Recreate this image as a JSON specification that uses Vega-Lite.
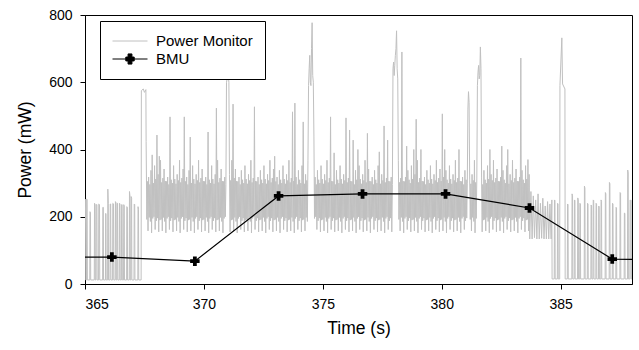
{
"$schema":"https://vega.github.io/schema/vega-lite/v6.json",
"width":547,"height":269,"autosize":"none",
"padding":{"left":85,"top":15,"right":7,"bottom":66},
"config":{"font":"Liberation Sans","view":{"stroke":"black","strokeWidth":1},
"axis":{"grid":false,"domainColor":"black","tickColor":"black","labelColor":"black","titleColor":"black","labelFontSize":14,"titleFontSize":17.5,"titleFontWeight":"normal","tickSize":5,"domainWidth":1,"tickWidth":1,"labelFont":"Liberation Sans","titleFont":"Liberation Sans"}},
"datasets":{
"pm":[
{"t":365,"p":250},{"t":365.02,"p":252},{"t":365.03,"p":12},
{"t":365.06,"p":12},{"t":365.07,"p":253},{"t":365.09,"p":250},{"t":365.1,"p":12},
{"t":365.2,"p":12},{"t":365.21,"p":215},{"t":365.23,"p":212},{"t":365.24,"p":12},
{"t":365.39,"p":12},{"t":365.4,"p":240},{"t":365.42,"p":238},{"t":365.43,"p":12},
{"t":365.46,"p":12},{"t":365.47,"p":236},{"t":365.5,"p":236},{"t":365.51,"p":12},
{"t":365.57,"p":12},{"t":365.58,"p":238},{"t":365.61,"p":236},{"t":365.62,"p":12},
{"t":365.74,"p":12},{"t":365.75,"p":228},{"t":365.77,"p":228},{"t":365.78,"p":12},
{"t":365.86,"p":12},{"t":365.87,"p":210},{"t":365.88,"p":208},{"t":365.89,"p":12},
{"t":365.95,"p":12},{"t":365.96,"p":282},{"t":365.98,"p":240},{"t":365.99,"p":12},
{"t":366.05,"p":12},{"t":366.06,"p":238},{"t":366.08,"p":238},{"t":366.09,"p":12},
{"t":366.16,"p":12},{"t":366.17,"p":240},{"t":366.2,"p":238},{"t":366.21,"p":12},
{"t":366.27,"p":12},{"t":366.28,"p":245},{"t":366.3,"p":242},{"t":366.31,"p":12},
{"t":366.34,"p":12},{"t":366.35,"p":240},{"t":366.37,"p":240},{"t":366.38,"p":12},
{"t":366.44,"p":12},{"t":366.45,"p":240},{"t":366.47,"p":238},{"t":366.48,"p":12},
{"t":366.53,"p":12},{"t":366.54,"p":236},{"t":366.56,"p":236},{"t":366.57,"p":12},
{"t":366.62,"p":12},{"t":366.63,"p":236},{"t":366.65,"p":232},{"t":366.66,"p":12},
{"t":366.75,"p":12},{"t":366.76,"p":230},{"t":366.78,"p":228},{"t":366.79,"p":12},
{"t":366.86,"p":12},{"t":366.87,"p":275},{"t":366.89,"p":262},{"t":366.9,"p":12},
{"t":366.93,"p":12},{"t":366.94,"p":260},{"t":366.96,"p":255},{"t":366.97,"p":12},
{"t":367.06,"p":12},{"t":367.07,"p":238},{"t":367.09,"p":236},{"t":367.1,"p":12},
{"t":367.22,"p":12},{"t":367.23,"p":230},{"t":367.25,"p":222},{"t":367.26,"p":12},
{"t":367.36,"p":12},{"t":367.37,"p":575},{"t":367.45,"p":580},{"t":367.5,"p":570},{"t":367.56,"p":578},{"t":367.57,"p":424},
{"t":367.6,"p":192},{"t":367.625,"p":305},{"t":367.65,"p":158},{"t":367.675,"p":318},{"t":367.7,"p":198},{"t":367.725,"p":296},{"t":367.75,"p":186},{"t":367.775,"p":338},
{"t":367.8,"p":152},{"t":367.825,"p":384},{"t":367.85,"p":195},{"t":367.875,"p":300},{"t":367.9,"p":200},{"t":367.925,"p":352},{"t":367.95,"p":162},{"t":367.975,"p":312},
{"t":368,"p":188},{"t":368.025,"p":443},{"t":368.05,"p":196},{"t":368.075,"p":326},{"t":368.1,"p":155},{"t":368.125,"p":380},{"t":368.15,"p":190},{"t":368.175,"p":368},
{"t":368.2,"p":192},{"t":368.225,"p":302},{"t":368.25,"p":158},{"t":368.275,"p":315},{"t":368.3,"p":198},{"t":368.325,"p":342},{"t":368.35,"p":186},{"t":368.375,"p":306},
{"t":368.4,"p":152},{"t":368.425,"p":305},{"t":368.45,"p":195},{"t":368.475,"p":318},{"t":368.5,"p":200},{"t":368.525,"p":296},{"t":368.55,"p":162},{"t":368.575,"p":497},
{"t":368.6,"p":188},{"t":368.625,"p":310},{"t":368.65,"p":196},{"t":368.675,"p":300},{"t":368.7,"p":155},{"t":368.725,"p":352},{"t":368.75,"p":190},{"t":368.775,"p":312},
{"t":368.8,"p":192},{"t":368.825,"p":298},{"t":368.85,"p":158},{"t":368.875,"p":326},{"t":368.9,"p":198},{"t":368.925,"p":308},{"t":368.95,"p":186},{"t":368.975,"p":368},
{"t":369,"p":152},{"t":369.025,"p":302},{"t":369.05,"p":195},{"t":369.075,"p":315},{"t":369.1,"p":200},{"t":369.125,"p":342},{"t":369.15,"p":162},{"t":369.175,"p":497},
{"t":369.2,"p":188},{"t":369.225,"p":305},{"t":369.25,"p":196},{"t":369.275,"p":318},{"t":369.3,"p":155},{"t":369.325,"p":296},{"t":369.35,"p":190},{"t":369.375,"p":338},
{"t":369.4,"p":192},{"t":369.425,"p":437},{"t":369.45,"p":158},{"t":369.475,"p":300},{"t":369.5,"p":198},{"t":369.525,"p":352},{"t":369.55,"p":186},{"t":369.575,"p":312},
{"t":369.6,"p":152},{"t":369.625,"p":298},{"t":369.65,"p":195},{"t":369.675,"p":326},{"t":369.7,"p":200},{"t":369.725,"p":308},{"t":369.75,"p":162},{"t":369.775,"p":368},
{"t":369.8,"p":188},{"t":369.825,"p":302},{"t":369.85,"p":196},{"t":369.875,"p":315},{"t":369.9,"p":155},{"t":369.925,"p":342},{"t":369.95,"p":190},{"t":369.975,"p":306},
{"t":370,"p":192},{"t":370.025,"p":305},{"t":370.05,"p":158},{"t":370.075,"p":318},{"t":370.1,"p":198},{"t":370.125,"p":296},{"t":370.15,"p":186},{"t":370.175,"p":452},
{"t":370.2,"p":152},{"t":370.225,"p":310},{"t":370.25,"p":195},{"t":370.275,"p":300},{"t":370.3,"p":200},{"t":370.325,"p":352},{"t":370.35,"p":162},{"t":370.375,"p":312},
{"t":370.4,"p":188},{"t":370.425,"p":298},{"t":370.45,"p":196},{"t":370.475,"p":326},{"t":370.5,"p":155},{"t":370.525,"p":523},{"t":370.55,"p":190},{"t":370.575,"p":368},
{"t":370.6,"p":192},{"t":370.625,"p":302},{"t":370.65,"p":158},{"t":370.675,"p":315},{"t":370.7,"p":198},{"t":370.725,"p":342},{"t":370.75,"p":186},{"t":370.775,"p":306},
{"t":370.8,"p":152},{"t":370.825,"p":305},{"t":370.85,"p":195},{"t":370.875,"p":318},{"t":370.9,"p":200},{"t":370.925,"p":296},{"t":370.95,"p":600},{"t":370.975,"p":610},
{"t":371,"p":640},{"t":371.025,"p":620},{"t":371.05,"p":600},{"t":371.075,"p":326},{"t":371.1,"p":155},{"t":371.125,"p":308},{"t":371.15,"p":190},{"t":371.175,"p":368},
{"t":371.2,"p":192},{"t":371.225,"p":535},{"t":371.25,"p":158},{"t":371.275,"p":315},{"t":371.3,"p":198},{"t":371.325,"p":342},{"t":371.35,"p":186},{"t":371.375,"p":306},
{"t":371.4,"p":152},{"t":371.425,"p":305},{"t":371.45,"p":195},{"t":371.475,"p":318},{"t":371.5,"p":200},{"t":371.525,"p":296},{"t":371.55,"p":162},{"t":371.575,"p":338},
{"t":371.6,"p":188},{"t":371.625,"p":310},{"t":371.65,"p":196},{"t":371.675,"p":300},{"t":371.7,"p":155},{"t":371.725,"p":352},{"t":371.75,"p":190},{"t":371.775,"p":312},
{"t":371.8,"p":192},{"t":371.825,"p":298},{"t":371.85,"p":158},{"t":371.875,"p":326},{"t":371.9,"p":198},{"t":371.925,"p":308},{"t":371.95,"p":186},{"t":371.975,"p":368},
{"t":372,"p":152},{"t":372.025,"p":302},{"t":372.05,"p":195},{"t":372.075,"p":315},{"t":372.1,"p":200},{"t":372.125,"p":527},{"t":372.15,"p":162},{"t":372.175,"p":306},
{"t":372.2,"p":188},{"t":372.225,"p":305},{"t":372.25,"p":196},{"t":372.275,"p":318},{"t":372.3,"p":155},{"t":372.325,"p":296},{"t":372.35,"p":190},{"t":372.375,"p":338},
{"t":372.4,"p":192},{"t":372.425,"p":310},{"t":372.45,"p":158},{"t":372.475,"p":300},{"t":372.5,"p":198},{"t":372.525,"p":352},{"t":372.55,"p":186},{"t":372.575,"p":312},
{"t":372.6,"p":152},{"t":372.625,"p":298},{"t":372.65,"p":195},{"t":372.675,"p":326},{"t":372.7,"p":200},{"t":372.725,"p":308},{"t":372.75,"p":162},{"t":372.775,"p":368},
{"t":372.8,"p":188},{"t":372.825,"p":302},{"t":372.85,"p":196},{"t":372.875,"p":315},{"t":372.9,"p":155},{"t":372.925,"p":342},{"t":372.95,"p":190},{"t":372.975,"p":380},
{"t":373,"p":192},{"t":373.025,"p":305},{"t":373.05,"p":158},{"t":373.075,"p":318},{"t":373.1,"p":198},{"t":373.125,"p":296},{"t":373.15,"p":186},{"t":373.175,"p":338},
{"t":373.2,"p":152},{"t":373.225,"p":310},{"t":373.25,"p":195},{"t":373.275,"p":300},{"t":373.3,"p":200},{"t":373.325,"p":352},{"t":373.35,"p":162},{"t":373.375,"p":312},
{"t":373.4,"p":188},{"t":373.425,"p":298},{"t":373.45,"p":196},{"t":373.475,"p":326},{"t":373.5,"p":155},{"t":373.525,"p":308},{"t":373.55,"p":190},{"t":373.575,"p":368},
{"t":373.6,"p":192},{"t":373.625,"p":302},{"t":373.65,"p":158},{"t":373.675,"p":315},{"t":373.7,"p":198},{"t":373.725,"p":512},{"t":373.75,"p":186},{"t":373.775,"p":306},
{"t":373.8,"p":152},{"t":373.825,"p":538},{"t":373.85,"p":195},{"t":373.875,"p":318},{"t":373.9,"p":200},{"t":373.925,"p":296},{"t":373.95,"p":162},{"t":373.975,"p":338},
{"t":374,"p":188},{"t":374.025,"p":310},{"t":374.05,"p":196},{"t":374.075,"p":300},{"t":374.1,"p":155},{"t":374.125,"p":352},{"t":374.15,"p":190},{"t":374.175,"p":482},
{"t":374.2,"p":192},{"t":374.225,"p":298},{"t":374.25,"p":158},{"t":374.275,"p":326},{"t":374.3,"p":198},{"t":374.325,"p":308},{"t":374.35,"p":186},{"t":374.375,"p":368},
{"t":374.4,"p":590},{"t":374.425,"p":640},{"t":374.45,"p":680},{"t":374.475,"p":600},{"t":374.5,"p":590},{"t":374.525,"p":700},{"t":374.55,"p":777},{"t":374.575,"p":620},
{"t":374.6,"p":600},{"t":374.625,"p":440},{"t":374.65,"p":195},{"t":374.675,"p":318},{"t":374.7,"p":200},{"t":374.725,"p":296},{"t":374.75,"p":162},{"t":374.775,"p":338},
{"t":374.8,"p":188},{"t":374.825,"p":310},{"t":374.85,"p":196},{"t":374.875,"p":300},{"t":374.9,"p":155},{"t":374.925,"p":352},{"t":374.95,"p":190},{"t":374.975,"p":312},
{"t":375,"p":192},{"t":375.025,"p":298},{"t":375.05,"p":158},{"t":375.075,"p":326},{"t":375.1,"p":198},{"t":375.125,"p":308},{"t":375.15,"p":186},{"t":375.175,"p":368},
{"t":375.2,"p":152},{"t":375.225,"p":302},{"t":375.25,"p":195},{"t":375.275,"p":315},{"t":375.3,"p":200},{"t":375.325,"p":497},{"t":375.35,"p":162},{"t":375.375,"p":306},
{"t":375.4,"p":188},{"t":375.425,"p":305},{"t":375.45,"p":196},{"t":375.475,"p":390},{"t":375.5,"p":155},{"t":375.525,"p":296},{"t":375.55,"p":190},{"t":375.575,"p":338},
{"t":375.6,"p":192},{"t":375.625,"p":310},{"t":375.65,"p":158},{"t":375.675,"p":300},{"t":375.7,"p":198},{"t":375.725,"p":352},{"t":375.75,"p":186},{"t":375.775,"p":312},
{"t":375.8,"p":152},{"t":375.825,"p":298},{"t":375.85,"p":195},{"t":375.875,"p":326},{"t":375.9,"p":200},{"t":375.925,"p":308},{"t":375.95,"p":162},{"t":375.975,"p":494},
{"t":376,"p":188},{"t":376.025,"p":302},{"t":376.05,"p":196},{"t":376.075,"p":315},{"t":376.1,"p":155},{"t":376.125,"p":458},{"t":376.15,"p":190},{"t":376.175,"p":306},
{"t":376.2,"p":192},{"t":376.225,"p":305},{"t":376.25,"p":158},{"t":376.275,"p":428},{"t":376.3,"p":198},{"t":376.325,"p":296},{"t":376.35,"p":186},{"t":376.375,"p":338},
{"t":376.4,"p":152},{"t":376.425,"p":310},{"t":376.45,"p":195},{"t":376.475,"p":400},{"t":376.5,"p":200},{"t":376.525,"p":352},{"t":376.55,"p":162},{"t":376.575,"p":312},
{"t":376.6,"p":188},{"t":376.625,"p":298},{"t":376.65,"p":196},{"t":376.675,"p":326},{"t":376.7,"p":155},{"t":376.725,"p":308},{"t":376.75,"p":190},{"t":376.775,"p":368},
{"t":376.8,"p":192},{"t":376.825,"p":302},{"t":376.85,"p":158},{"t":376.875,"p":448},{"t":376.9,"p":198},{"t":376.925,"p":342},{"t":376.95,"p":186},{"t":376.975,"p":306},
{"t":377,"p":152},{"t":377.025,"p":305},{"t":377.05,"p":195},{"t":377.075,"p":318},{"t":377.1,"p":200},{"t":377.125,"p":296},{"t":377.15,"p":162},{"t":377.175,"p":338},
{"t":377.2,"p":188},{"t":377.225,"p":310},{"t":377.25,"p":196},{"t":377.275,"p":300},{"t":377.3,"p":155},{"t":377.325,"p":352},{"t":377.35,"p":190},{"t":377.375,"p":393},
{"t":377.4,"p":192},{"t":377.425,"p":298},{"t":377.45,"p":158},{"t":377.475,"p":326},{"t":377.5,"p":198},{"t":377.525,"p":308},{"t":377.55,"p":186},{"t":377.575,"p":470},
{"t":377.6,"p":152},{"t":377.625,"p":302},{"t":377.65,"p":195},{"t":377.675,"p":315},{"t":377.7,"p":200},{"t":377.725,"p":428},{"t":377.75,"p":162},{"t":377.775,"p":306},
{"t":377.8,"p":188},{"t":377.825,"p":305},{"t":377.85,"p":196},{"t":377.875,"p":318},{"t":377.9,"p":155},{"t":377.925,"p":296},{"t":377.95,"p":640},{"t":377.975,"p":660},
{"t":378,"p":620},{"t":378.025,"p":650},{"t":378.05,"p":680},{"t":378.075,"p":700},{"t":378.1,"p":753},{"t":378.125,"p":640},{"t":378.15,"p":610},{"t":378.175,"p":368},
{"t":378.2,"p":192},{"t":378.225,"p":302},{"t":378.25,"p":158},{"t":378.275,"p":315},{"t":378.3,"p":198},{"t":378.325,"p":690},{"t":378.35,"p":186},{"t":378.375,"p":306},
{"t":378.4,"p":152},{"t":378.425,"p":305},{"t":378.45,"p":195},{"t":378.475,"p":318},{"t":378.5,"p":200},{"t":378.525,"p":410},{"t":378.55,"p":162},{"t":378.575,"p":338},
{"t":378.6,"p":188},{"t":378.625,"p":310},{"t":378.65,"p":196},{"t":378.675,"p":300},{"t":378.7,"p":155},{"t":378.725,"p":352},{"t":378.75,"p":190},{"t":378.775,"p":312},
{"t":378.8,"p":192},{"t":378.825,"p":400},{"t":378.85,"p":158},{"t":378.875,"p":326},{"t":378.9,"p":198},{"t":378.925,"p":490},{"t":378.95,"p":186},{"t":378.975,"p":368},
{"t":379,"p":152},{"t":379.025,"p":302},{"t":379.05,"p":195},{"t":379.075,"p":315},{"t":379.1,"p":200},{"t":379.125,"p":400},{"t":379.15,"p":162},{"t":379.175,"p":306},
{"t":379.2,"p":188},{"t":379.225,"p":305},{"t":379.25,"p":196},{"t":379.275,"p":318},{"t":379.3,"p":155},{"t":379.325,"p":296},{"t":379.35,"p":190},{"t":379.375,"p":338},
{"t":379.4,"p":192},{"t":379.425,"p":310},{"t":379.45,"p":158},{"t":379.475,"p":300},{"t":379.5,"p":198},{"t":379.525,"p":352},{"t":379.55,"p":186},{"t":379.575,"p":312},
{"t":379.6,"p":152},{"t":379.625,"p":298},{"t":379.65,"p":195},{"t":379.675,"p":326},{"t":379.7,"p":200},{"t":379.725,"p":308},{"t":379.75,"p":162},{"t":379.775,"p":368},
{"t":379.8,"p":188},{"t":379.825,"p":302},{"t":379.85,"p":196},{"t":379.875,"p":315},{"t":379.9,"p":155},{"t":379.925,"p":342},{"t":379.95,"p":190},{"t":379.975,"p":306},
{"t":380,"p":192},{"t":380.025,"p":506},{"t":380.05,"p":158},{"t":380.075,"p":318},{"t":380.1,"p":198},{"t":380.125,"p":400},{"t":380.15,"p":186},{"t":380.175,"p":338},
{"t":380.2,"p":152},{"t":380.225,"p":310},{"t":380.25,"p":195},{"t":380.275,"p":300},{"t":380.3,"p":200},{"t":380.325,"p":352},{"t":380.35,"p":162},{"t":380.375,"p":312},
{"t":380.4,"p":188},{"t":380.425,"p":298},{"t":380.45,"p":196},{"t":380.475,"p":326},{"t":380.5,"p":155},{"t":380.525,"p":308},{"t":380.55,"p":190},{"t":380.575,"p":368},
{"t":380.6,"p":192},{"t":380.625,"p":302},{"t":380.65,"p":158},{"t":380.675,"p":315},{"t":380.7,"p":198},{"t":380.725,"p":400},{"t":380.75,"p":186},{"t":380.775,"p":306},
{"t":380.8,"p":152},{"t":380.825,"p":305},{"t":380.85,"p":195},{"t":380.875,"p":318},{"t":380.9,"p":200},{"t":380.925,"p":296},{"t":380.95,"p":162},{"t":380.975,"p":338},
{"t":381,"p":188},{"t":381.025,"p":310},{"t":381.05,"p":196},{"t":381.075,"p":300},{"t":381.1,"p":520},{"t":381.125,"p":572},{"t":381.15,"p":540},{"t":381.175,"p":312},
{"t":381.2,"p":192},{"t":381.225,"p":298},{"t":381.25,"p":158},{"t":381.275,"p":326},{"t":381.3,"p":198},{"t":381.325,"p":308},{"t":381.35,"p":186},{"t":381.375,"p":368},
{"t":381.4,"p":152},{"t":381.425,"p":302},{"t":381.45,"p":195},{"t":381.475,"p":315},{"t":381.5,"p":590},{"t":381.525,"p":630},{"t":381.55,"p":650},{"t":381.575,"p":610},
{"t":381.6,"p":620},{"t":381.625,"p":705},{"t":381.65,"p":640},{"t":381.675,"p":318},{"t":381.7,"p":155},{"t":381.725,"p":296},{"t":381.75,"p":190},{"t":381.775,"p":338},
{"t":381.8,"p":192},{"t":381.825,"p":310},{"t":381.85,"p":158},{"t":381.875,"p":300},{"t":381.9,"p":198},{"t":381.925,"p":352},{"t":381.95,"p":186},{"t":381.975,"p":312},
{"t":382,"p":152},{"t":382.025,"p":400},{"t":382.05,"p":195},{"t":382.075,"p":326},{"t":382.1,"p":200},{"t":382.125,"p":308},{"t":382.15,"p":162},{"t":382.175,"p":368},
{"t":382.2,"p":188},{"t":382.225,"p":302},{"t":382.25,"p":196},{"t":382.275,"p":315},{"t":382.3,"p":155},{"t":382.325,"p":342},{"t":382.35,"p":190},{"t":382.375,"p":306},
{"t":382.4,"p":192},{"t":382.425,"p":305},{"t":382.45,"p":158},{"t":382.475,"p":318},{"t":382.5,"p":198},{"t":382.525,"p":410},{"t":382.55,"p":186},{"t":382.575,"p":338},
{"t":382.6,"p":152},{"t":382.625,"p":310},{"t":382.65,"p":195},{"t":382.675,"p":300},{"t":382.7,"p":200},{"t":382.725,"p":352},{"t":382.75,"p":162},{"t":382.775,"p":400},
{"t":382.8,"p":188},{"t":382.825,"p":298},{"t":382.85,"p":196},{"t":382.875,"p":326},{"t":382.9,"p":155},{"t":382.925,"p":308},{"t":382.95,"p":190},{"t":382.975,"p":368},
{"t":383,"p":192},{"t":383.025,"p":302},{"t":383.05,"p":158},{"t":383.075,"p":315},{"t":383.1,"p":198},{"t":383.125,"p":342},{"t":383.15,"p":186},{"t":383.175,"p":306},
{"t":383.2,"p":152},{"t":383.225,"p":305},{"t":383.25,"p":195},{"t":383.275,"p":318},{"t":383.3,"p":200},{"t":383.325,"p":672},{"t":383.35,"p":162},{"t":383.375,"p":338},
{"t":383.4,"p":188},{"t":383.425,"p":310},{"t":383.45,"p":196},{"t":383.475,"p":300},{"t":383.5,"p":155},{"t":383.525,"p":352},{"t":383.55,"p":190},{"t":383.575,"p":312},
{"t":383.6,"p":192},{"t":383.625,"p":370},{"t":383.65,"p":158},{"t":383.675,"p":326},
{"t":383.7,"p":134},{"t":383.75,"p":275},{"t":383.8,"p":134},{"t":383.85,"p":262},{"t":383.9,"p":138},{"t":383.95,"p":250},{"t":384,"p":134},{"t":384.05,"p":268},{"t":384.1,"p":134},{"t":384.15,"p":240},
{"t":384.2,"p":136},{"t":384.25,"p":255},{"t":384.3,"p":134},{"t":384.35,"p":232},{"t":384.4,"p":134},{"t":384.45,"p":245},{"t":384.5,"p":134},{"t":384.55,"p":238},{"t":384.6,"p":134},{"t":384.63,"p":250},{"t":384.64,"p":15},
{"t":384.73,"p":15},{"t":384.74,"p":250},{"t":384.76,"p":248},{"t":384.77,"p":15},
{"t":384.86,"p":15},{"t":384.87,"p":240},{"t":384.89,"p":238},{"t":384.9,"p":15},
{"t":384.96,"p":15},{"t":384.97,"p":590},{"t":385.05,"p":732},{"t":385.08,"p":595},{"t":385.18,"p":580},{"t":385.19,"p":15},
{"t":385.28,"p":15},{"t":385.29,"p":238},{"t":385.31,"p":236},{"t":385.32,"p":15},
{"t":385.47,"p":15},{"t":385.48,"p":268},{"t":385.5,"p":262},{"t":385.51,"p":15},
{"t":385.57,"p":15},{"t":385.58,"p":250},{"t":385.6,"p":248},{"t":385.61,"p":15},
{"t":385.71,"p":15},{"t":385.72,"p":256},{"t":385.74,"p":250},{"t":385.75,"p":15},
{"t":385.8,"p":15},{"t":385.81,"p":240},{"t":385.83,"p":238},{"t":385.84,"p":15},
{"t":385.99,"p":15},{"t":386,"p":291},{"t":386.02,"p":285},{"t":386.03,"p":15},
{"t":386.12,"p":15},{"t":386.13,"p":240},{"t":386.15,"p":238},{"t":386.16,"p":15},
{"t":386.27,"p":15},{"t":386.28,"p":235},{"t":386.3,"p":232},{"t":386.31,"p":15},
{"t":386.36,"p":15},{"t":386.37,"p":250},{"t":386.39,"p":248},{"t":386.4,"p":15},
{"t":386.48,"p":15},{"t":386.49,"p":240},{"t":386.51,"p":238},{"t":386.52,"p":15},
{"t":386.59,"p":15},{"t":386.6,"p":232},{"t":386.62,"p":230},{"t":386.63,"p":15},
{"t":386.69,"p":15},{"t":386.7,"p":250},{"t":386.72,"p":246},{"t":386.73,"p":15},
{"t":386.87,"p":15},{"t":386.88,"p":272},{"t":386.9,"p":268},{"t":386.91,"p":15},
{"t":387.04,"p":15},{"t":387.05,"p":302},{"t":387.07,"p":298},{"t":387.08,"p":15},
{"t":387.17,"p":15},{"t":387.18,"p":240},{"t":387.2,"p":238},{"t":387.21,"p":15},
{"t":387.32,"p":15},{"t":387.33,"p":228},{"t":387.35,"p":226},{"t":387.36,"p":15},
{"t":387.49,"p":15},{"t":387.5,"p":272},{"t":387.52,"p":270},{"t":387.53,"p":15},
{"t":387.67,"p":15},{"t":387.68,"p":211},{"t":387.7,"p":210},{"t":387.71,"p":15},
{"t":387.81,"p":15},{"t":387.82,"p":339},{"t":387.84,"p":330},{"t":387.85,"p":15},
{"t":387.91,"p":15},{"t":387.92,"p":250},{"t":387.95,"p":248},{"t":387.96,"p":15},
{"t":387.99,"p":15},{"t":388,"p":250}
],
"bmu":[
{"t":362.6,"p":79},{"t":366.13,"p":80},{"t":369.62,"p":68},{"t":373.14,"p":262},{"t":376.67,"p":268},{"t":380.16,"p":268},{"t":383.69,"p":226},{"t":387.17,"p":74},{"t":390.7,"p":72}
]},
"layer":[
{"data":{"name":"pm"},
 "mark":{"type":"line","clip":true,"strokeWidth":1},
 "encoding":{
  "x":{"field":"t","type":"quantitative","scale":{"domain":[365,388],"nice":false,"zero":false},
       "axis":{"values":[365,370,375,380,385],"format":"d","title":"Time (s)","labelPadding":8,"titlePadding":8}},
  "y":{"field":"p","type":"quantitative","scale":{"domain":[0,800],"nice":false},
       "axis":{"values":[0,200,400,600,800],"title":"Power (mW)","labelPadding":8,"titlePadding":14}},
  "color":{"datum":"Power Monitor","type":"nominal",
     "scale":{"domain":["Power Monitor","BMU"],"range":["#c0c0c0","black"]},
     "legend":{"title":null,"orient":"none","legendX":15,"legendY":6,"direction":"vertical",
       "fillColor":"white","strokeColor":"black","padding":12,"cornerRadius":0,
       "symbolSize":1225,"clipHeight":16,"rowPadding":2,"labelOffset":8,"labelFontSize":15,"labelColor":"black","labelFont":"Liberation Sans",
       "symbolType":"stroke","symbolStrokeWidth":1,
       "encode":{"symbols":{"update":{
         "shape":{"signal":"datum.value === 'BMU' ? 'M-1,0H1M-0.24,-0.11H-0.11V-0.29H0.11V-0.11H0.24V0.11H0.11V0.29H-0.11V0.11H-0.24Z' : 'M-1,0H1'"},
         "fill":{"signal":"datum.value === 'BMU' ? 'black' : 'transparent'"},
         "stroke":{"signal":"datum.value === 'BMU' ? 'black' : '#c0c0c0'"}}}}}}
 }},
{"data":{"name":"bmu"},
 "mark":{"type":"line","clip":true,"strokeWidth":1.2},
 "encoding":{
  "x":{"field":"t","type":"quantitative"},
  "y":{"field":"p","type":"quantitative"},
  "color":{"datum":"BMU","type":"nominal"}}},
{"data":{"name":"bmu"},
 "mark":{"type":"point","shape":"cross","filled":true,"size":90,"color":"black","opacity":1,"clip":true},
 "encoding":{
  "x":{"field":"t","type":"quantitative"},
  "y":{"field":"p","type":"quantitative"}}}
]
}
